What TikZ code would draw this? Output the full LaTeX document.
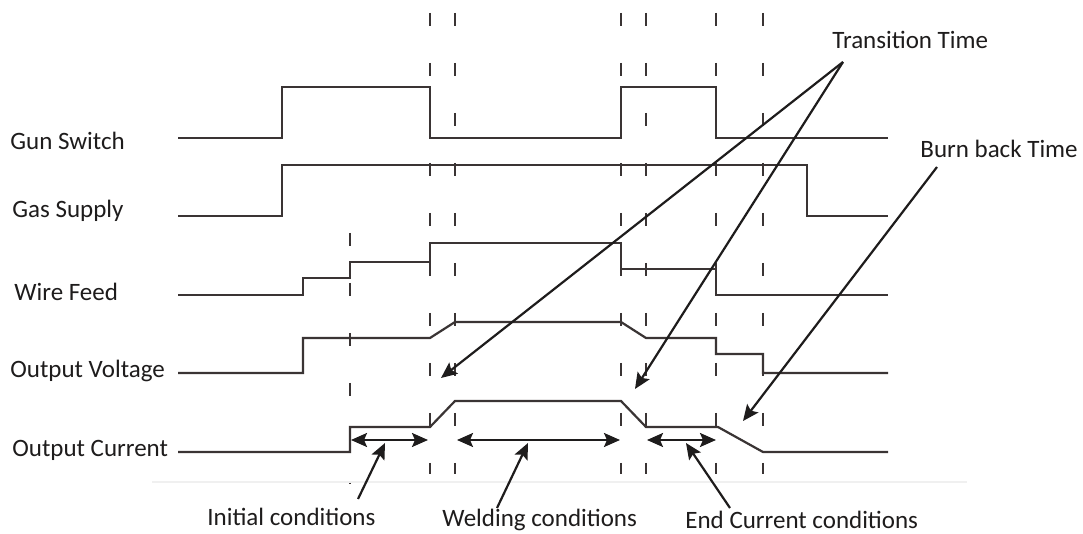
\documentclass[tikz,border=0pt]{standalone}
\usepackage{fontspec}
\setmainfont{Carlito}
\usetikzlibrary{arrows.meta}
\definecolor{sig}{RGB}{58,52,52}
\definecolor{txt}{RGB}{30,28,28}
\begin{document}
\begin{tikzpicture}[x=0.5pt,y=-0.5pt,
  signal/.style={draw=sig,line width=1.1pt,line join=miter},
  marker/.style={draw=sig,line width=1pt,dash pattern=on 6.5pt off 18.5pt},
  pointer/.style={draw=txt,line width=1.1pt,-{Stealth[length=8pt,width=7pt,inset=1.5pt]}},
  span/.style={draw=txt,line width=1.1pt,{Stealth[length=8pt,width=7pt,inset=1.5pt]}-{Stealth[length=8pt,width=7pt,inset=1.5pt]}},
  lbl/.style={inner sep=0pt,anchor=base west,text=txt,font=\fontsize{12.5pt}{15pt}\selectfont}]
\useasboundingbox[fill=white] (0,0) rectangle (1083,534);
% faint frame line
\draw[gray!12,line width=0.6pt] (152,482) -- (967,482);
% dashed time markers
\foreach \xx in {430,455,621,646,716,763}
  \draw[marker] (\xx,13) -- (\xx,474);
\draw[marker] (350,233) -- (350,484);
% signal labels
\node[lbl] (gs) at (10,150) {Gun Switch};
\node[lbl] (ga) at (12,218) {Gas Supply};
\node[lbl] (wf) at (14,301) {Wire Feed};
\node[lbl] (ov) at (10,378) {Output Voltage};
\node[lbl] (oc) at (12,457) {Output Current};
% signals
\draw[signal] (178,138) -- (282,138) -- (282,87) -- (430,87) -- (430,138) -- (621,138) -- (621,87) -- (716,87) -- (716,138) -- (888,138);
\draw[signal] (178,216) -- (282,216) -- (282,165) -- (807,165) -- (807,216) -- (888,216);
\draw[signal] (178,295) -- (303,295) -- (303,278) -- (350,278) -- (350,262) -- (430,262) -- (430,243) -- (621,243) -- (621,269) -- (716,269) -- (716,295) -- (888,295);
\draw[signal] (178,373) -- (303,373) -- (303,338) -- (430,338) -- (455,322) -- (621,322) -- (646,338) -- (716,338) -- (716,354) -- (763,354) -- (763,373) -- (888,373);
\draw[signal] (178,452) -- (350,452) -- (350,427) -- (430,427) -- (455,401) -- (621,401) -- (646,427) -- (718,427) -- (763,452) -- (888,452);
% spans
\coordinate (i1) at (351,440); \coordinate (i2) at (428,440);
\coordinate (w1) at (457,440); \coordinate (w2) at (620,440);
\coordinate (e1) at (647,440); \coordinate (e2) at (716,440);
\draw[span] (i1) -- (i2);
\draw[span] (w1) -- (w2);
\draw[span] (e1) -- (e2);
% annotation labels
\node[lbl] (tt) at (832,49) {Transition Time};
\node[lbl] (bb) at (920,158) {Burn back Time};
\node[lbl] (ic) at (207,525) {Initial conditions};
\node[lbl] (wc) at (442,527) {Welding conditions};
\node[lbl] (ec) at (685,529) {End Current conditions};
% pointer anchors
\coordinate (ttp) at (843,62);
\coordinate (bbp) at (937,167);
\coordinate (icp) at (358,499);
\coordinate (wcp) at (497,508);
\coordinate (ecp) at (730,508);
\coordinate (t1) at (441,378);
\coordinate (t2) at (635,389);
\coordinate (b1) at (743,421);
\coordinate (ia) at (385,443);
\coordinate (wa) at (528,443);
\coordinate (ea) at (686,443);
\draw[pointer] (ttp) -- (t1);
\draw[pointer] (ttp) -- (t2);
\draw[pointer] (bbp) -- (b1);
\draw[pointer] (icp) -- (ia);
\draw[pointer] (wcp) -- (wa);
\draw[pointer] (ecp) -- (ea);
\end{tikzpicture}
\end{document}
